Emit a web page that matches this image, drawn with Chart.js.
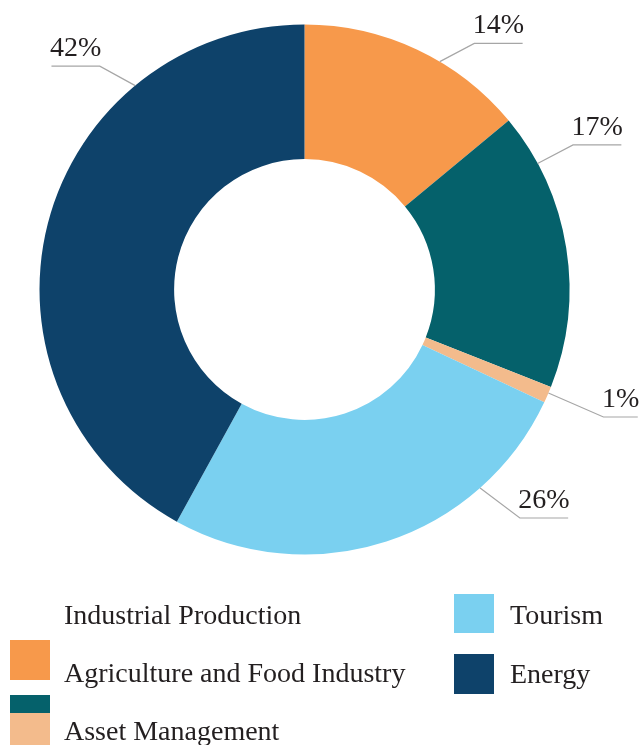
<!DOCTYPE html>
<html>
<head>
<meta charset="utf-8">
<script src="https://cdn.jsdelivr.net/npm/chart.js@4.4.0/dist/chart.umd.min.js"></script>
<style>
  html, body { margin: 0; padding: 0; background: #fff; }
  #wrap { position: relative; width: 641px; height: 745px; overflow: hidden; }
</style>
</head>
<body>
<div id="wrap"><canvas id="sectorChart" width="641" height="745"></canvas></div>
<script>
// ===== Data =====
const sectorLabels = ["Agriculture and Food Industry", "Industrial Production", "Asset Management", "Tourism", "Energy"];
const sectorValues = [14, 17, 1, 26, 42];
const sectorColors = ["#F7994B", "#05616B", "#F3BB8C", "#7AD0F0", "#0E426A"];

const FONT = '"Liberation Serif", "Times New Roman", serif';
const TEXT_COLOR = "#231F20";

// ===== Legend layout (as in the source, swatches are a bit off) =====
const legendLayout = [
  { label: "Industrial Production",         textX: 64,  textY: 624, box: [10, 695, 40, 18] },
  { label: "Agriculture and Food Industry", textX: 64,  textY: 682, box: [10, 640, 40, 40] },
  { label: "Asset Management",              textX: 64,  textY: 740, box: [10, 713, 40, 40] },
  { label: "Tourism",                       textX: 510, textY: 624, box: [454, 594, 40, 39] },
  { label: "Energy",                        textX: 510, textY: 683, box: [454, 654, 40, 40] }
];

// ===== Legend drawn on canvas =====
const legendPlugin = {
  id: 'customLegend',
  afterDraw(chart) {
    const ctx = chart.ctx;
    ctx.save();
    legendLayout.forEach(item => {
      const idx = sectorLabels.indexOf(item.label);
      if (item.box) {
        ctx.fillStyle = sectorColors[idx];
        ctx.fillRect(item.box[0], item.box[1], item.box[2], item.box[3]);
      }
    });
    ctx.font = '28px ' + FONT;
    ctx.fillStyle = TEXT_COLOR;
    ctx.textAlign = 'left';
    ctx.textBaseline = 'alphabetic';
    legendLayout.forEach(item => ctx.fillText(item.label, item.textX, item.textY));
    ctx.restore();
  }
};

// ===== Percent labels with leader lines =====
const leaderPlugin = {
  id: 'leaders',
  afterDatasetsDraw(chart, args, opts) {
    const ctx = chart.ctx;
    const meta = chart.getDatasetMeta(0);
    const total = sectorValues.reduce((a, b) => a + b, 0);
    const rad = d => (d - 90) * Math.PI / 180;
    ctx.save();
    ctx.font = '28px ' + FONT;
    meta.data.forEach((arc, i) => {
      const cx = arc.x, cy = arc.y, r = arc.outerRadius;
      const r1 = r + opts.elbowOffsets[i];
      const x0 = cx + r * Math.cos(rad(opts.startAngles[i]));
      const y0 = cy + r * Math.sin(rad(opts.startAngles[i]));
      const x1 = cx + r1 * Math.cos(rad(opts.elbowAngles[i]));
      const y1 = cy + r1 * Math.sin(rad(opts.elbowAngles[i]));
      const text = Math.round(sectorValues[i] / total * 100) + '%';
      const w = ctx.measureText(text).width - 3;
      const dir = x1 >= cx ? 1 : -1;
      const x2 = x1 + dir * w;

      ctx.strokeStyle = '#A6A6A6';
      ctx.lineWidth = 1.2;
      ctx.beginPath();
      ctx.moveTo(x0, y0);
      ctx.lineTo(x1, y1);
      ctx.lineTo(x2, y1);
      ctx.stroke();

      ctx.fillStyle = TEXT_COLOR;
      ctx.textAlign = 'center';
      ctx.textBaseline = 'alphabetic';
      ctx.fillText(text, (x1 + x2) / 2, y1 - 10);
    });
    ctx.restore();
  }
};

new Chart(document.getElementById('sectorChart'), {
  type: 'doughnut',
  data: {
    labels: sectorLabels,
    datasets: [{
      data: sectorValues,
      backgroundColor: sectorColors,
      borderWidth: 0,
      hoverOffset: 0
    }]
  },
  options: {
    responsive: false,
    animation: false,
    cutout: '49.2%',
    layout: { padding: { left: 39.5, right: 71.5, top: 24.5, bottom: 190.5 } },
    plugins: {
      legend: { display: false },
      tooltip: { enabled: false },
      leaders: {
        startAngles: [30.7, 61.6, 113.0, 138.5, 320.3],
        elbowAngles: [34.6, 61.7, 113.1, 136.7, 317.5],
        elbowOffsets: [34, 40, 60, 49, 38]
      }
    }
  },
  plugins: [leaderPlugin, legendPlugin]
});
</script>
</body>
</html>
